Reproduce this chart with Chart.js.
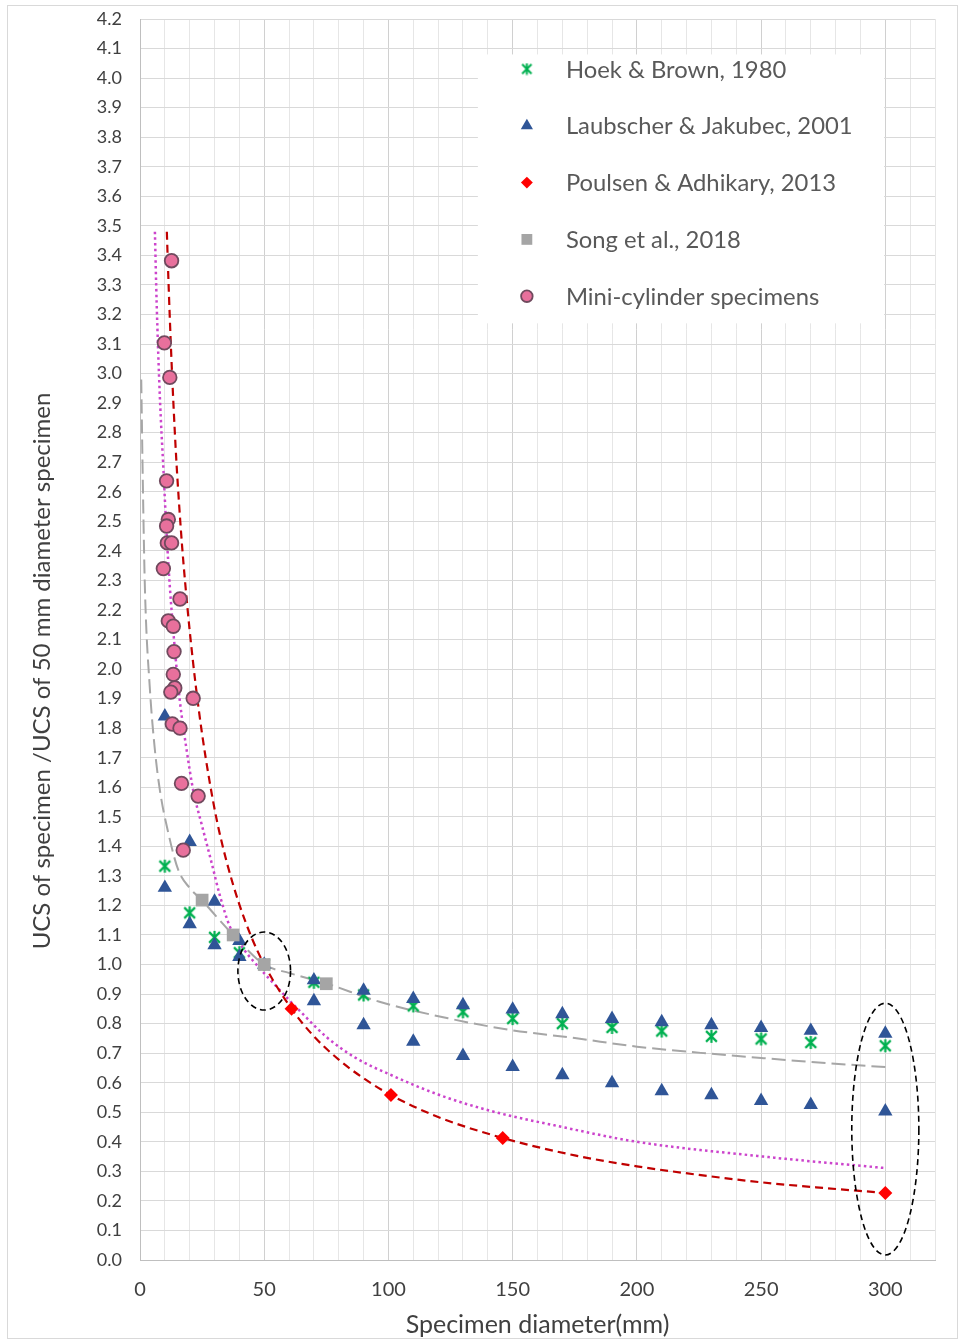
<!DOCTYPE html>
<html>
<head>
<meta charset="utf-8">
<script src="https://cdn.jsdelivr.net/npm/chart.js@4/dist/chart.umd.min.js"></script>
<style>
  html, body { margin: 0; padding: 0; background: #ffffff; }
  #wrap { position: relative; width: 961px; height: 1340px; }
</style>
</head>
<body>
<div id="wrap"><canvas id="c" width="961" height="1340"></canvas></div>
<script>
// ---- axis tick labels ----
const xTickLabels = [0, 50, 100, 150, 200, 250, 300];

// ---- Hoek & Brown, 1980 ----
const hoekX = [10, 20, 30, 40, 50, 70, 90, 110, 130, 150, 170, 190, 210, 230, 250, 270, 300];
const hoekY = [1.333, 1.175, 1.092, 1.04, 1.0, 0.94, 0.897, 0.86, 0.84, 0.817, 0.8, 0.787, 0.775, 0.757, 0.748, 0.736, 0.725];

// ---- Laubscher & Jakubec, 2001 (upper and lower sets) ----
const laubX = [10, 20, 30, 40, 50, 70, 90, 110, 130, 150, 170, 190, 210, 230, 250, 270, 300,
               10, 20, 30, 40, 70, 90, 110, 130, 150, 170, 190, 210, 230, 250, 270, 300];
const laubY = [1.84, 1.415, 1.213, 1.08, 1.0, 0.947, 0.912, 0.884, 0.863, 0.848, 0.832, 0.816, 0.805, 0.795, 0.786, 0.776, 0.766,
               1.26, 1.137, 1.066, 1.026, 0.876, 0.795, 0.739, 0.691, 0.654, 0.626, 0.599, 0.572, 0.558, 0.539, 0.525, 0.503];

// ---- Poulsen & Adhikary, 2013 ----
const poulsenX = [61, 101, 146, 300];
const poulsenY = [0.85, 0.558, 0.413, 0.227];

// ---- Song et al., 2018 ----
const songX = [25, 37.5, 50, 75];
const songY = [1.218, 1.10, 1.0, 0.935];

// ---- Mini-cylinder specimens ----
const miniX = [12.7, 9.8, 12.0, 10.7, 11.4, 10.7, 11.0, 12.7, 9.4, 16.1, 11.4, 13.4, 13.7, 13.4, 14.0, 12.4, 21.4, 13.0, 16.1, 16.7, 23.4, 17.4];
const miniY = [3.382, 3.104, 2.987, 2.637, 2.506, 2.484, 2.427, 2.427, 2.34, 2.237, 2.163, 2.145, 2.059, 1.982, 1.936, 1.922, 1.901, 1.814, 1.80, 1.613, 1.570, 1.387];

// ---- trend curves ----
const poulsenCurveX = [10.8, 11.6, 12.5, 13.5, 14.6, 15.8, 17.0, 18.1, 20, 22.5, 25, 28, 31, 35, 40, 45, 50, 61, 70, 80, 90, 101, 120, 146, 175, 200, 225, 250, 275, 300];
const poulsenCurveY = [3.48, 3.28, 3.08, 2.89, 2.71, 2.55, 2.41, 2.30, 2.13, 1.94, 1.78, 1.62, 1.485, 1.344, 1.203, 1.09, 1.0, 0.85, 0.757, 0.678, 0.615, 0.558, 0.484, 0.413, 0.354, 0.317, 0.288, 0.263, 0.244, 0.227];

const miniCurveX = [6.0, 6.7, 8.0, 9.4, 10.7, 12.0, 14.0, 16.0, 18.7, 21.4, 24.8, 28.8, 32.1, 36.1, 41.5, 49.5, 55, 60, 65.6, 75, 87, 100, 120, 141, 170, 200, 251, 300];
const miniCurveY = [3.48, 3.24, 2.92, 2.68, 2.46, 2.28, 2.07, 1.895, 1.73, 1.59, 1.475, 1.345, 1.235, 1.13, 1.055, 0.975, 0.925, 0.88, 0.832, 0.755, 0.683, 0.63, 0.56, 0.505, 0.45, 0.40, 0.35, 0.311];

const songCurveX = [0.5, 1.2, 2.0, 4.0, 6.0, 8.0, 11.4, 15.4, 20, 24.8, 37.5, 50, 60.2, 75, 96.4, 124, 149.5, 175, 200, 225.7, 251, 276.7, 300];
const songCurveY = [2.98, 2.6, 2.267, 1.93, 1.726, 1.59, 1.445, 1.32, 1.259, 1.218, 1.10, 1.0, 0.971, 0.936, 0.874, 0.818, 0.778, 0.751, 0.722, 0.701, 0.683, 0.666, 0.653];

// ---- dashed ellipses marking the 50 mm reference and the 300 mm specimens ----
const ringCentreX = [50, 300];
const ringCentreY = [0.978, 0.443];
const ringHalfX = [10.6, 13.5];
const ringHalfY = [0.132, 0.426];

const pts = (xs, ys) => xs.map((x, i) => ({ x: x, y: ys[i] }));

const FONT = 'Lato, "Open Sans", sans-serif';
const TEXT = '#404040';

// asterisk marker: an X with a vertical stroke
function makeAsterisk(size, color, lw) {
  const c = document.createElement('canvas');
  c.width = size; c.height = size;
  const g = c.getContext('2d');
  g.strokeStyle = color; g.lineWidth = lw; g.lineCap = 'butt';
  const m = size / 2, a = size * 0.36;
  g.beginPath();
  g.moveTo(m - a, m - a); g.lineTo(m + a, m + a);
  g.moveTo(m + a, m - a); g.lineTo(m - a, m + a);
  g.moveTo(m, m - a - 1); g.lineTo(m, m + a + 1);
  g.stroke();
  return c;
}
const starImg = makeAsterisk(15, '#00B050', 2.2);
const starLegendImg = makeAsterisk(13, '#00B050', 2);

const STYLE = {
  hoek:    { pointStyle: starImg },
  laub:    { pointStyle: 'triangle', radius: 8.3, fill: '#2F5597', stroke: '#2F5597', bw: 0 },
  poulsen: { pointStyle: 'rectRot', radius: 7, fill: '#FF0000', stroke: '#FF0000', bw: 0 },
  song:    { pointStyle: 'rect', radius: 9, fill: '#A5A5A5', stroke: '#A5A5A5', bw: 0 },
  mini:    { pointStyle: 'circle', radius: 6.8, fill: '#E8709C', stroke: '#704A5E', bw: 1.8 }
};

const legendItems = [
  { text: 'Hoek & Brown, 1980', key: 'hoek' },
  { text: 'Laubscher & Jakubec, 2001', key: 'laub' },
  { text: 'Poulsen & Adhikary, 2013', key: 'poulsen' },
  { text: 'Song et al., 2018', key: 'song' },
  { text: 'Mini-cylinder specimens', key: 'mini' }
];

const decorPlugin = {
  id: 'decor',
  beforeDatasetsDraw(chart) {
    const ctx = chart.ctx;
    const xs = chart.scales.x, ys = chart.scales.y;
    // legend panel sits inside the plot, over the grid
    const left = xs.getPixelForValue(136), right = xs.getPixelForValue(299.5);
    const top = ys.getPixelForValue(4.08), bottom = ys.getPixelForValue(3.17);
    ctx.save();
    ctx.fillStyle = '#ffffff';
    ctx.fillRect(left, top, right - left, bottom - top);
    const rowTop = 69, rowGap = 56.8;
    legendItems.forEach((it, i) => {
      const y = rowTop + i * rowGap;
      const mx = left + 49;
      const s = STYLE[it.key];
      if (it.key === 'hoek') {
        ctx.drawImage(starLegendImg, mx - 6.5, y - 6.5);
      } else {
        ctx.fillStyle = s.fill; ctx.strokeStyle = s.stroke; ctx.lineWidth = s.bw;
        Chart.helpers.drawPoint(ctx, { pointStyle: s.pointStyle, radius: s.radius * 0.85, rotation: 0, borderWidth: s.bw }, mx, y);
      }
      ctx.fillStyle = '#595959';
      ctx.font = '23.8px ' + FONT;
      ctx.textBaseline = 'middle';
      ctx.textAlign = 'left';
      ctx.fillText(it.text, left + 88, y + 1);
    });
    ctx.restore();
  },
  afterDatasetsDraw(chart) {
    const ctx = chart.ctx;
    const xs = chart.scales.x, ys = chart.scales.y;
    ctx.save();
    ctx.strokeStyle = '#000000';
    ctx.lineWidth = 1.6;
    ctx.setLineDash([6, 4]);
    for (let i = 0; i < ringCentreX.length; i++) {
      const cx = xs.getPixelForValue(ringCentreX[i]);
      const cy = ys.getPixelForValue(ringCentreY[i]);
      const rx = Math.abs(xs.getPixelForValue(ringCentreX[i] + ringHalfX[i]) - cx);
      const ry = Math.abs(ys.getPixelForValue(ringCentreY[i] + ringHalfY[i]) - cy);
      ctx.beginPath();
      ctx.ellipse(cx, cy, rx, ry, 0, 0, Math.PI * 2);
      ctx.stroke();
    }
    ctx.restore();
  },
  afterDraw(chart) {
    const ctx = chart.ctx;
    const a = chart.chartArea;
    ctx.save();
    // axis titles
    ctx.fillStyle = TEXT;
    ctx.textAlign = 'center';
    ctx.textBaseline = 'middle';
    ctx.font = '25px ' + FONT;
    ctx.fillText('Specimen diameter(mm)', (a.left + a.right) / 2, 1325);
    ctx.font = '24px ' + FONT;
    ctx.translate(42, 671);
    ctx.rotate(-Math.PI / 2);
    ctx.fillText('UCS of specimen /UCS of 50 mm diameter specimen', 0, 0);
    ctx.restore();
    // chart frame
    ctx.save();
    ctx.strokeStyle = '#D9D9D9';
    ctx.lineWidth = 1;
    ctx.strokeRect(7.5, 5.5, 950, 1333);
    ctx.restore();
  }
};

const lineBase = { type: 'line', showLine: true, pointRadius: 0, pointHoverRadius: 0, fill: false, cubicInterpolationMode: 'monotone' };

new Chart(document.getElementById('c'), {
  type: 'scatter',
  data: {
    datasets: [
      { label: 'Mini-cylinder specimens', data: pts(miniX, miniY), order: 1,
        pointStyle: STYLE.mini.pointStyle, pointRadius: STYLE.mini.radius, backgroundColor: STYLE.mini.fill, borderColor: STYLE.mini.stroke, borderWidth: STYLE.mini.bw },
      { label: 'Song et al., 2018', data: pts(songX, songY), order: 2,
        pointStyle: STYLE.song.pointStyle, pointRadius: STYLE.song.radius, backgroundColor: STYLE.song.fill, borderWidth: 0 },
      { label: 'Poulsen & Adhikary, 2013', data: pts(poulsenX, poulsenY), order: 3,
        pointStyle: STYLE.poulsen.pointStyle, pointRadius: STYLE.poulsen.radius, backgroundColor: STYLE.poulsen.fill, borderWidth: 0 },
      { label: 'Laubscher & Jakubec, 2001', data: pts(laubX, laubY), order: 4,
        pointStyle: STYLE.laub.pointStyle, pointRadius: STYLE.laub.radius, backgroundColor: STYLE.laub.fill, borderWidth: 0 },
      { label: 'Hoek & Brown, 1980', data: pts(hoekX, hoekY), order: 5,
        pointStyle: starImg, pointRadius: 7 },
      Object.assign({ label: 'Poulsen trend', data: pts(poulsenCurveX, poulsenCurveY), order: 6,
        borderColor: '#C00000', borderWidth: 2.2, borderDash: [8, 5] }, lineBase),
      Object.assign({ label: 'Mini-cylinder trend', data: pts(miniCurveX, miniCurveY), order: 7,
        borderColor: '#CC44CC', borderWidth: 2.5, borderDash: [2.5, 3.2] }, lineBase),
      Object.assign({ label: 'Song trend', data: pts(songCurveX, songCurveY), order: 8,
        borderColor: '#A6A6A6', borderWidth: 2, borderDash: [14, 6] }, lineBase)
    ]
  },
  options: {
    responsive: false,
    animation: false,
    events: [],
    layout: { padding: { left: 0, top: 19, right: 26, bottom: 0 } },
    plugins: { legend: { display: false }, tooltip: { enabled: false } },
    scales: {
      x: {
        type: 'linear', min: 0, max: 320,
        afterFit(s) { s.height = 80; s.paddingLeft = 0; s.paddingRight = 0; },
        ticks: {
          stepSize: 10, autoSkip: false, maxRotation: 0, padding: 18,
          color: TEXT, font: { family: FONT, size: 20 },
          callback: v => (xTickLabels.includes(Math.round(v)) ? String(Math.round(v)) : '')
        },
        grid: {
          drawTicks: false, lineWidth: 1,
          color: c => (c.tick && Math.round(c.tick.value) % 50 === 0 ? '#D0D0D0' : '#E6E6E6')
        },
        border: { color: '#BFBFBF', width: 1 }
      },
      y: {
        type: 'linear', min: 0, max: 4.2,
        afterFit(s) { s.width = 140; s.paddingTop = 0; s.paddingBottom = 0; },
        ticks: {
          stepSize: 0.1, autoSkip: false, padding: 18,
          color: TEXT, font: { family: FONT, size: 18 },
          callback: v => Number(v).toFixed(1)
        },
        grid: { drawTicks: false, lineWidth: 1, color: '#D9D9D9' },
        border: { color: '#BFBFBF', width: 1 }
      }
    }
  },
  plugins: [decorPlugin]
});
</script>
</body>
</html>
